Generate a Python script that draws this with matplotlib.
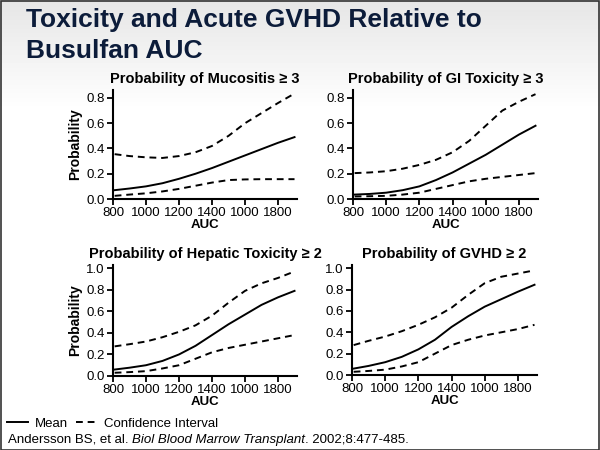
import numpy as np
import matplotlib
matplotlib.use("Agg")
import matplotlib.pyplot as plt
from matplotlib.patches import Rectangle

plt.rcParams['font.family'] = ['Liberation Sans', 'DejaVu Sans']

# ---------------- data ----------------
auc = [810, 900, 1000, 1100, 1200, 1300, 1400, 1500, 1600, 1700, 1800, 1900]

muc_mean = [0.07, 0.083, 0.10, 0.125, 0.16, 0.20, 0.245, 0.295, 0.345, 0.395, 0.445, 0.49]
muc_up   = [0.355, 0.34, 0.33, 0.325, 0.34, 0.37, 0.42, 0.50, 0.60, 0.68, 0.76, 0.835]
muc_lo   = [0.025, 0.035, 0.045, 0.06, 0.08, 0.105, 0.13, 0.15, 0.155, 0.157, 0.157, 0.157]

gi_mean = [0.035, 0.04, 0.05, 0.07, 0.10, 0.15, 0.21, 0.28, 0.35, 0.43, 0.51, 0.58]
gi_up   = [0.205, 0.21, 0.22, 0.24, 0.27, 0.31, 0.37, 0.46, 0.58, 0.70, 0.77, 0.83]
gi_lo   = [0.02, 0.022, 0.025, 0.035, 0.05, 0.08, 0.11, 0.14, 0.16, 0.175, 0.19, 0.205]

hep_mean = [0.06, 0.077, 0.10, 0.14, 0.20, 0.28, 0.38, 0.48, 0.57, 0.66, 0.73, 0.79]
hep_up   = [0.275, 0.295, 0.32, 0.36, 0.41, 0.47, 0.56, 0.68, 0.79, 0.86, 0.91, 0.97]
hep_lo   = [0.03, 0.036, 0.045, 0.07, 0.10, 0.16, 0.22, 0.26, 0.29, 0.32, 0.35, 0.38]

gv_mean = [0.06, 0.085, 0.12, 0.17, 0.24, 0.33, 0.45, 0.55, 0.64, 0.71, 0.78, 0.845]
gv_up   = [0.28, 0.32, 0.36, 0.41, 0.47, 0.54, 0.63, 0.75, 0.86, 0.92, 0.95, 0.98]
gv_lo   = [0.03, 0.038, 0.05, 0.08, 0.12, 0.20, 0.28, 0.33, 0.37, 0.40, 0.43, 0.47]

panel_titles = ["Probability of Mucositis \u2265 3", "Probability of GI Toxicity \u2265 3",
                "Probability of Hepatic Toxicity \u2265 2", "Probability of GVHD \u2265 2"]
xtick_vals = [800, 1000, 1200, 1400, 1600, 1800]
xtick_labels = ["800", "1000", "1200", "1400", "1000", "1800"]
ytick_top = [0.0, 0.2, 0.4, 0.6, 0.8]
ytick_bot = [0.0, 0.2, 0.4, 0.6, 0.8, 1.0]

# ---------------- figure ----------------
W, H = 600, 450
fig = plt.figure(figsize=(6, 4.5), dpi=100)
fig.patch.set_facecolor('white')

# background gradient
bg = fig.add_axes([0, 0, 1, 1], zorder=-10)
ys = np.arange(450)
grad = np.repeat(np.clip(0.90 + 0.10 * (ys / 110.0), 0.90, 1.0)[:, None], 2, axis=1)
bg.imshow(grad, cmap='gray', vmin=0, vmax=1, aspect='auto', extent=[0, 1, 0, 1], origin='upper')
bg.set_axis_off()
fig.add_artist(Rectangle((0.001, 0.001), 0.997, 0.997, transform=fig.transFigure,
                         fill=False, edgecolor='#333333', lw=1.2))

def fx(px):
    return px / W

def fy(py):
    return 1 - py / H

title_color = '#0c1c3a'
fig.text(fx(26), fy(20), "Toxicity and Acute GVHD Relative to", fontsize=19, fontweight='bold',
         color=title_color, va='center', ha='left')
fig.text(fx(26), fy(51), "Busulfan AUC", fontsize=19, fontweight='bold',
         color=title_color, va='center', ha='left')

panels = [
    (113, 297, 90, 199, 0.863, ytick_top, muc_mean, muc_up, muc_lo, True),
    (353, 538, 90, 199, 0.863, ytick_top, gi_mean, gi_up, gi_lo, False),
    (113, 297, 265, 376, 1.03, ytick_bot, hep_mean, hep_up, hep_lo, True),
    (352, 537, 265, 375, 1.03, ytick_bot, gv_mean, gv_up, gv_lo, False),
]

lines_for_legend = None
for i, (l, r, t, b, ymax, yt, mean, up, lo, ylab) in enumerate(panels):
    ax = fig.add_axes([fx(l), fy(b), (r - l) / W, (b - t) / H])
    ax.patch.set_alpha(0)
    m, = ax.plot(auc, mean, color='black', lw=1.4)
    c, = ax.plot(auc, up, color='black', lw=1.4, ls=(0, (3.5, 2.5)))
    ax.plot(auc, lo, color='black', lw=1.4, ls=(0, (3.5, 2.5)))
    lines_for_legend = (m, c)
    ax.set_xlim(800, 1915)
    ax.set_ylim(0, ymax)
    ax.set_xticks(xtick_vals)
    ax.set_xticklabels(xtick_labels)
    ax.set_yticks(yt)
    ax.set_yticklabels([f"{v:.1f}" for v in yt])
    for s in ['top', 'right']:
        ax.spines[s].set_visible(False)
    for s in ['left', 'bottom']:
        ax.spines[s].set_linewidth(1.5)
    ax.tick_params(axis='both', direction='out', length=4, width=1.3, labelsize=9.5, pad=2)
    ax.set_xlabel("AUC", fontsize=9.5, fontweight='bold', labelpad=0)
    if ylab:
        ax.set_ylabel("Probability", fontsize=10, fontweight='bold', labelpad=3)
    ax.set_title(panel_titles[i], fontsize=10.5, fontweight='bold', pad=5)

fig.legend(lines_for_legend, ["Mean", "Confidence Interval"], loc='upper left',
           bbox_to_anchor=(fx(2), fy(412)), ncol=2, frameon=False, fontsize=9.5,
           handlelength=1.6, handletextpad=0.5, columnspacing=0.6, borderaxespad=0)

renderer = fig.canvas.get_renderer()
parts = [("Andersson BS, et al. ", 'normal'), ("Biol Blood Marrow Transplant", 'italic'),
         (". 2002;8:477-485.", 'normal')]
x = fx(8)
for txt, style in parts:
    tt = fig.text(x, fy(440), txt, fontsize=9.5, style=style, va='center', ha='left')
    bb = tt.get_window_extent(renderer=renderer)
    x += bb.width / W

fig.savefig("out.png", dpi=100)
